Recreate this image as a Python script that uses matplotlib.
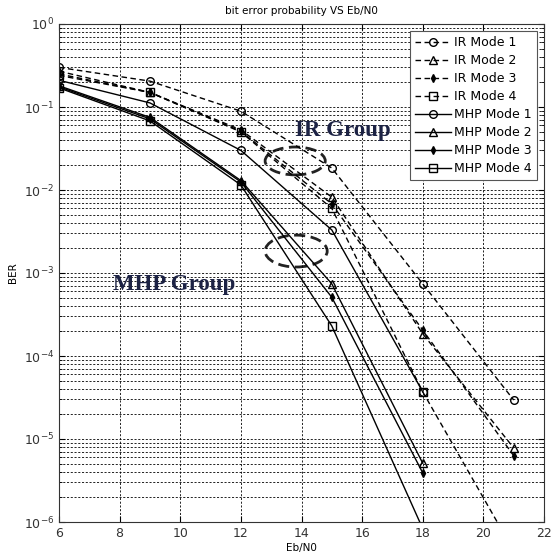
import numpy as np
import matplotlib
matplotlib.use("Agg")
import matplotlib.pyplot as plt
from matplotlib.patches import Ellipse
from matplotlib.ticker import FixedLocator, NullFormatter

# ─────────────────────────────────────────────
# data
# ─────────────────────────────────────────────
ebn0 = [6, 9, 12, 15, 18, 21]
ebn0_mhp = [6, 9, 12, 15, 18]

ir_mode1 = [0.30, 0.205, 0.089, 0.0184, 7.4e-4, 2.95e-5]
ir_mode2 = [0.27, 0.15, 0.053, 8.2e-3, 1.85e-4, 7.8e-6]
ir_mode3 = [0.25, 0.15, 0.051, 6.8e-3, 2.05e-4, 6.3e-6]
ir_mode4 = [0.24, 0.15, 0.050, 6.0e-3, 3.7e-5, 4.5e-7]

mhp_mode1 = [0.21, 0.112, 0.030, 3.3e-3, 3.7e-5]
mhp_mode2 = [0.18, 0.075, 0.013, 7.4e-4, 5.1e-6]
mhp_mode3 = [0.175, 0.072, 0.0125, 5.1e-4, 3.9e-6]
mhp_mode4 = [0.17, 0.068, 0.0115, 2.3e-4, 8.3e-7]

labels = ["IR Mode 1", "IR Mode 2", "IR Mode 3", "IR Mode 4",
          "MHP Mode 1", "MHP Mode 2", "MHP Mode 3", "MHP Mode 4"]
decades = [-6, -5, -4, -3, -2, -1, 0]

plt.rcParams["font.family"] = ["DejaVu Sans"]

fig = plt.figure(figsize=(5.59, 5.57), dpi=100)
ax = fig.add_axes([59 / 559, 1 - 522 / 557, 485 / 559, 498 / 557])

markers = ["o", "^", "d", "s"]
ir_series = [ir_mode1, ir_mode2, ir_mode3, ir_mode4]
mhp_series = [mhp_mode1, mhp_mode2, mhp_mode3, mhp_mode4]

for i, ys in enumerate(ir_series):
    filled = markers[i] == "d"
    ax.semilogy(ebn0, ys, linestyle=(0, (4, 2.5)), color="black", lw=1.0,
                marker=markers[i], ms=4 if filled else 5.5,
                mfc="black" if filled else "none", mec="black", mew=1.0,
                label=labels[i])

for i, ys in enumerate(mhp_series):
    filled = markers[i] == "d"
    ax.semilogy(ebn0_mhp, ys, linestyle="-", color="black", lw=1.0,
                marker=markers[i], ms=4 if filled else 5.5,
                mfc="black" if filled else "none", mec="black", mew=1.0,
                label=labels[i + 4])

ax.set_xlim(6, 22)
ax.set_ylim(1e-6, 1)
ax.set_xticks(range(6, 23, 2))
ax.set_yticks([10.0 ** d for d in decades])
minor = [m * 10.0 ** d for d in decades[:-1] for m in range(2, 10)]
ax.yaxis.set_minor_locator(FixedLocator(minor))
ax.yaxis.set_minor_formatter(NullFormatter())

ax.grid(True, which="major", axis="both", color="black", lw=0.6, linestyle=(0, (2.5, 2)))
ax.grid(True, which="minor", axis="y", color="black", lw=0.6, linestyle=(0, (2.5, 2)))
ax.tick_params(which="both", direction="in", top=True, right=True, labelsize=9,
               labelcolor="#333333", length=4)
ax.tick_params(which="minor", length=2)
for sp in ax.spines.values():
    sp.set_color("#333333")

ax.set_title("bit error probability VS Eb/N0", fontsize=7.5, pad=7)
ax.set_xlabel("Eb/N0", fontsize=7.5, labelpad=2)
ax.set_ylabel("BER", fontsize=7.5, labelpad=4)

leg = ax.legend(loc="upper right", fontsize=9, handlelength=2.9, labelspacing=0.4,
                borderaxespad=0.55, fancybox=False, framealpha=1, edgecolor="#555555",
                handletextpad=0.25, borderpad=0.4)
leg.get_frame().set_linewidth(0.8)

# group annotations
ax.text(0.487, 0.775, "IR Group", transform=ax.transAxes, ha="left", va="baseline",
        fontsize=16.5, fontweight="bold", family=["Liberation Serif", "DejaVu Serif"],
        color="#1c2244")
ax.text(0.111, 0.466, "MHP Group", transform=ax.transAxes, ha="left", va="baseline",
        fontsize=16.5, fontweight="bold", family=["Liberation Serif", "DejaVu Serif"],
        color="#1c2244")
ax.add_patch(Ellipse((0.487, 0.725), 0.124, 0.056, transform=ax.transAxes, fill=False,
                     lw=2.0, ls=(0, (4, 2)), color="#222222"))
ax.add_patch(Ellipse((0.489, 0.544), 0.128, 0.064, transform=ax.transAxes, fill=False,
                     lw=2.0, ls=(0, (4, 2)), color="#222222"))

fig.savefig("out.png", dpi=100)
